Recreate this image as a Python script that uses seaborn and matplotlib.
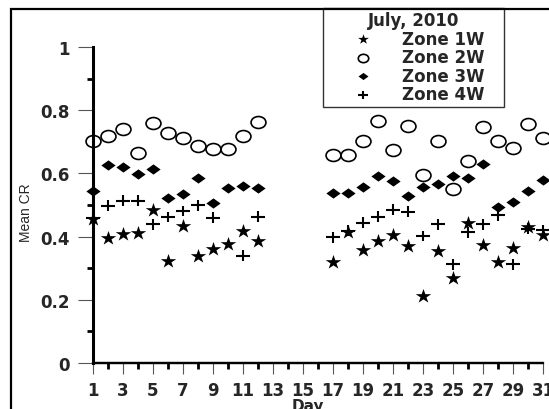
import numpy as np
import pandas as pd
import matplotlib
matplotlib.use("Agg")
import matplotlib.pyplot as plt
import seaborn as sns
from matplotlib.patches import Rectangle
from matplotlib.path import Path
from matplotlib.transforms import Affine2D

days = list(range(1, 32))
nan = np.nan
zone_1w = [0.457, 0.396, 0.407, 0.410, 0.483, 0.322, 0.435, 0.338, 0.362, 0.377, 0.417, 0.387,
           nan, nan, nan, nan,
           0.321, 0.415, 0.358, 0.386, 0.405, 0.369, 0.212, 0.353, 0.270, 0.442, 0.375, 0.320,
           0.364, 0.431, 0.404]
zone_2w = [0.702, 0.717, 0.741, 0.666, 0.761, 0.727, 0.711, 0.687, 0.676, 0.676, 0.718, 0.763,
           nan, nan, nan, nan,
           0.659, 0.659, 0.701, 0.765, 0.673, 0.750, 0.596, 0.704, 0.551, 0.638, 0.748, 0.702,
           0.679, 0.756, 0.711]
zone_3w = [0.544, 0.627, 0.620, 0.599, 0.613, 0.521, 0.536, 0.585, 0.505, 0.554, 0.561, 0.553,
           nan, nan, nan, nan,
           0.538, 0.538, 0.558, 0.592, 0.575, 0.528, 0.558, 0.565, 0.593, 0.585, 0.629, 0.494,
           0.511, 0.544, 0.578]
zone_4w = [0.460, 0.498, 0.514, 0.513, 0.439, 0.462, 0.481, 0.499, 0.460, nan, 0.339, 0.463,
           nan, nan, nan, nan,
           0.398, 0.418, 0.444, 0.463, 0.485, 0.479, 0.402, 0.439, 0.312, 0.413, 0.439, 0.468,
           0.313, 0.425, 0.420]
zone_names = ["Zone 1W", "Zone 2W", "Zone 3W", "Zone 4W"]
legend_title = "July, 2010"
y_ticks = [0, 0.2, 0.4, 0.6, 0.8, 1]
y_labels = ["0", "0.2", "0.4", "0.6", "0.8", "1"]
y_minor = [0.1, 0.3, 0.5, 0.7, 0.9]
x_major = list(range(1, 32, 2))
x_minor = list(range(2, 31, 2))

df = pd.DataFrame({"Day": days, "Zone 1W": zone_1w, "Zone 2W": zone_2w,
                   "Zone 3W": zone_3w, "Zone 4W": zone_4w})
long = df.melt(id_vars="Day", var_name="Zone", value_name="CR").dropna()

sns.set_style("white")
plt.rcParams["font.family"] = ["DejaVu Sans"]

W, H = 549, 410
fig = plt.figure(figsize=(W / 100, H / 100), dpi=100)
ax = fig.add_axes([93 / W, 1 - 364 / H, (543 - 93) / W, (364 - 48) / H])

# the original markers look a bit wider than tall
squash = lambda p, k: p.transformed(Affine2D().scale(1, k))
wide_circle = squash(Path.unit_circle(), 0.8)
wide_star = squash(Path.unit_regular_star(5, 0.381966), 0.92)
flat_diamond = Path([(-1, 0), (0, 0.72), (1, 0), (0, -0.72), (-1, 0)],
                    [Path.MOVETO, Path.LINETO, Path.LINETO, Path.LINETO, Path.CLOSEPOLY])
wide_plus = Path([(-1, 0), (1, 0), (0, -0.75), (0, 0.75)],
                 [Path.MOVETO, Path.LINETO, Path.MOVETO, Path.LINETO])

styles = {
    "Zone 1W": dict(marker=wide_star, s=125, color="black", linewidth=0),
    "Zone 2W": dict(marker=wide_circle, s=115, facecolors="white", edgecolor="black", linewidth=1.2),
    "Zone 3W": dict(marker=flat_diamond, s=105, color="black", linewidth=0),
    "Zone 4W": dict(marker=wide_plus, s=110, facecolors="none", edgecolor="black", linewidth=1.5),
}

handles = []
for name in zone_names:
    sub = long[long["Zone"] == name]
    sns.scatterplot(data=sub, x="Day", y="CR", ax=ax, clip_on=False, zorder=3,
                    **styles[name])
    handles.append(ax.collections[-1])

ax.set_xlim(1, 31)
ax.set_ylim(0, 1)

for s in ["top", "right"]:
    ax.spines[s].set_visible(False)
for s, lw in [("left", 2.2), ("bottom", 1.6)]:
    ax.spines[s].set_visible(True)
    ax.spines[s].set_linewidth(lw)
    ax.spines[s].set_color("black")
    ax.spines[s].set_zorder(4)
ax.spines["left"].set_bounds(0, 1)
# x axis line drawn explicitly as well
ax.axhline(0, color="black", linewidth=1.6, clip_on=False, zorder=4)

ax.set_xticks(x_major)
ax.set_xticks(x_minor, minor=True)
ax.set_yticks(y_ticks, y_labels)
ax.set_yticks(y_minor, minor=True)
ax.tick_params(axis="both", which="both", bottom=True, left=True)
ax.tick_params(axis="both", which="major", direction="out", length=10.5, width=0.8,
               color="#555555", labelsize=12, pad=6)
ax.tick_params(axis="both", which="minor", direction="out", length=4.5, width=2.0,
               color="black")
ax.tick_params(axis="x", which="major", length=8, pad=5)
for lab in ax.get_xticklabels() + ax.get_yticklabels():
    lab.set_fontweight("bold")

ax.set_xlabel("Day", fontsize=11, fontweight="bold")
ax.xaxis.set_label_coords((308 - 93) / (543 - 93), -(399.5 - 364) / (364 - 48))
ax.set_ylabel("Mean CR", fontsize=10, fontstretch="condensed",
              family=["Liberation Sans Narrow", "Liberation Sans", "DejaVu Sans"])
ax.yaxis.set_label_coords(-(93 - 33) / (543 - 93), (364 - 213) / (364 - 48))

leg = ax.legend(handles, zone_names, title=legend_title, loc="upper left",
                bbox_to_anchor=(323 / W, (H - 109) / H, 181 / W, 100 / H),
                bbox_transform=fig.transFigure, mode="expand",
                borderaxespad=0, frameon=True, fancybox=False, shadow=False,
                fontsize=12, title_fontsize=12, borderpad=0.2, handlelength=4.4,
                handletextpad=0.15, labelspacing=0.03, markerscale=0.7)
leg.get_frame().set_edgecolor("black")
leg.get_frame().set_linewidth(1.0)
leg.get_title().set_fontweight("bold")
for t in leg.get_texts():
    t.set_fontweight("bold")

fig.patches.append(Rectangle((11 / W, -0.1), 1.2, 1.1 - 10 / H, transform=fig.transFigure,
                             fill=False, edgecolor="black", linewidth=1.6, zorder=0))

fig.savefig("out.png", dpi=100)
